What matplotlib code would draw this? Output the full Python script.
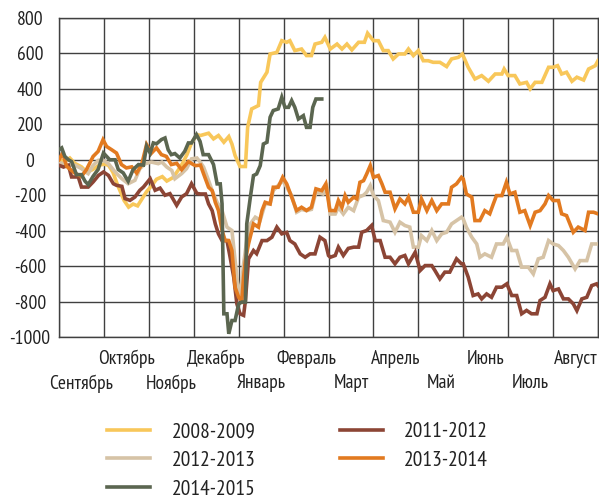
import matplotlib
matplotlib.use("Agg")
import matplotlib.pyplot as plt

plt.rcParams['font.family'] = ['PT Sans Narrow', 'Roboto Condensed', 'DejaVu Sans']

months = ["Сентябрь", "Октябрь", "Ноябрь", "Декабрь", "Январь", "Февраль",
          "Март", "Апрель", "Май", "Июнь", "Июль", "Август"]
y_ticks = [-1000, -800, -600, -400, -200, 0, 200, 400, 600, 800]

# x positions are in months since 1 September
x_0809 = [0.0, 0.12, 0.24, 0.35, 0.5, 0.62, 0.75, 0.9, 1.0, 1.1, 1.2, 1.3, 1.45, 1.55, 1.65, 1.75, 1.85,
          1.95, 2.05, 2.17, 2.3, 2.4, 2.54, 2.65, 2.75, 2.85, 2.95, 3.07, 3.15, 3.33, 3.44, 3.55, 3.67,
          3.78, 3.85, 3.92, 4.03, 4.15, 4.2, 4.29, 4.44, 4.49, 4.63, 4.70, 4.85, 4.96, 5.07, 5.14, 5.25,
          5.40, 5.51, 5.62, 5.70, 5.85, 5.92, 6.04, 6.19, 6.30, 6.41, 6.52, 6.67, 6.80, 6.87, 7.0, 7.11,
          7.22, 7.33, 7.44, 7.56, 7.70, 7.78, 7.89, 8.0, 8.11, 8.22, 8.33, 8.48, 8.63, 8.74, 8.89, 8.98,
          9.11, 9.26, 9.41, 9.56, 9.71, 9.86, 9.91, 10.0, 10.15, 10.26, 10.41, 10.49, 10.6, 10.75, 10.9,
          11.0, 11.1, 11.19, 11.3, 11.42, 11.53, 11.68, 11.79, 11.94, 12.0]
v_0809 = [0, -10, 10, -20, -40, -70, -55, -30, -25, -30, -70, -140, -230, -267, -250, -260, -220,
          -180, -150, -110, -95, -120, -100, -60, -20, 30, 95, 142, 137, 150, 118, 137, 99,
          131, 89, 24, -38, -38, 183, 287, 306, 437, 494, 597, 606, 672, 663, 672, 616,
          625, 588, 588, 653, 663, 691, 625, 653, 625, 653, 620, 663, 663, 714, 672, 672,
          616, 616, 569, 597, 597, 625, 588, 616, 559, 559, 550, 550, 526, 569, 578, 597,
          522, 456, 475, 443, 484, 484, 512, 475, 475, 428, 437, 400, 437, 437, 522,
          522, 531, 484, 494, 443, 466, 450, 512, 531, 559]

x_1112 = [0.0, 0.1, 0.21, 0.28, 0.43, 0.5, 0.65, 0.76, 0.88, 0.99, 1.1, 1.21, 1.28, 1.4, 1.47, 1.58,
          1.69, 1.8, 1.88, 2.03, 2.14, 2.25, 2.36, 2.47, 2.62, 2.73, 2.84, 2.95, 3.07, 3.15, 3.26,
          3.33, 3.41, 3.48, 3.55, 3.63, 3.74, 3.81, 3.89, 3.96, 4.03, 4.11, 4.15, 4.22, 4.33, 4.4,
          4.52, 4.63, 4.74, 4.85, 4.96, 5.07, 5.14, 5.25, 5.37, 5.48, 5.59, 5.7, 5.81, 5.92, 6.0,
          6.04, 6.15, 6.22, 6.33, 6.44, 6.56, 6.67, 6.74, 6.85, 6.96, 7.04, 7.15, 7.26, 7.37, 7.48,
          7.59, 7.7, 7.78, 7.93, 8.04, 8.15, 8.3, 8.37, 8.48, 8.59, 8.7, 8.85, 8.96, 9.0, 9.11,
          9.22, 9.33, 9.41, 9.52, 9.63, 9.74, 9.86, 9.97, 10.08, 10.19, 10.3, 10.41, 10.52, 10.64,
          10.71, 10.82, 10.93, 11.0, 11.12, 11.23, 11.34, 11.45, 11.53, 11.64, 11.75, 11.86, 11.97, 12.0]
v_1112 = [-31, -41, -31, -97, -97, -154, -154, -125, -88, -69, -88, -135, -144, -150, -219, -229,
          -210, -172, -154, -107, -172, -160, -200, -191, -257, -210, -191, -135, -190, -193, -193,
          -249, -287, -362, -418, -456, -456, -550, -662, -813, -869, -878, -795, -559, -512, -530,
          -456, -456, -437, -380, -418, -410, -456, -475, -531, -550, -531, -531, -437, -456, -540,
          -550, -540, -493, -540, -500, -493, -493, -409, -399, -371, -456, -456, -550, -550, -587,
          -550, -540, -587, -522, -625, -597, -597, -625, -672, -634, -634, -559, -587, -587, -662,
          -766, -757, -785, -757, -776, -719, -719, -700, -766, -766, -869, -850, -869, -869,
          -794, -776, -700, -738, -729, -785, -785, -813, -851, -785, -776, -710, -700, -710]

x_1213 = [0.0, 0.21, 0.36, 0.5, 0.65, 0.76, 0.88, 0.99, 1.1, 1.25, 1.4, 1.54, 1.69, 1.8, 1.92, 2.06,
          2.21, 2.29, 2.4, 2.51, 2.58, 2.73, 2.84, 2.95, 3.07, 3.15, 3.22, 3.33, 3.41, 3.52, 3.63,
          3.74, 3.85, 3.96, 4.03, 4.11, 4.18, 4.26, 4.37, 4.48, 4.59, 4.70, 4.77, 4.88, 4.98, 5.07,
          5.18, 5.29, 5.40, 5.51, 5.62, 5.72, 5.88, 5.97, 6.04, 6.15, 6.22, 6.33, 6.44, 6.56, 6.67,
          6.78, 6.85, 6.93, 7.0, 7.11, 7.22, 7.37, 7.48, 7.59, 7.70, 7.81, 7.89, 8.0, 8.07, 8.19,
          8.30, 8.41, 8.52, 8.63, 8.74, 8.85, 8.96, 9.0, 9.07, 9.19, 9.3, 9.37, 9.48, 9.63, 9.74,
          9.89, 9.97, 10.08, 10.19, 10.3, 10.45, 10.56, 10.67, 10.78, 10.9, 11.0, 11.12, 11.23,
          11.34, 11.49, 11.6, 11.75, 11.86, 11.97, 12.0]
v_1213 = [-15, -31, -31, -50, -78, -31, -3, -3, -22, -69, -107, -135, -116, -50, -22, -13,
          -22, -13, -41, -60, -107, -78, -50, 5, 10, -15, -42, -117, -174, -240, -286,
          -380, -399, -662, -795, -587, -455, -362, -324, -340, -249, -249, -174, -145, -117, -155,
          -202, -296, -280, -287, -280, -183, -193, -155, -306, -306, -268, -306, -268, -287, -211,
          -200, -183, -146, -202, -230, -343, -352, -409, -352, -371, -380, -493, -493, -428, -456,
          -399, -456, -418, -409, -362, -343, -324, -334, -381, -437, -475, -550, -531, -550, -475,
          -475, -437, -512, -512, -606, -606, -644, -559, -550, -456, -475, -484, -512,
          -550, -616, -569, -569, -475, -475, -475]

x_1314 = [0.0, 0.08, 0.17, 0.35, 0.5, 0.61, 0.76, 0.87, 0.98, 1.06, 1.17, 1.28, 1.39, 1.5, 1.62, 1.73,
          1.84, 1.95, 2.06, 2.17, 2.28, 2.39, 2.5, 2.62, 2.73, 2.88, 2.99, 3.04, 3.15, 3.22, 3.33,
          3.41, 3.48, 3.55, 3.63, 3.70, 3.78, 3.85, 3.92, 4.0, 4.07, 4.11, 4.15, 4.22, 4.33, 4.44,
          4.52, 4.59, 4.70, 4.77, 4.88, 4.98, 5.07, 5.18, 5.29, 5.40, 5.51, 5.62, 5.72, 5.85, 5.94,
          6.03, 6.15, 6.22, 6.30, 6.37, 6.44, 6.56, 6.63, 6.70, 6.78, 6.85, 6.93, 7.0, 7.11, 7.19,
          7.26, 7.37, 7.48, 7.59, 7.70, 7.78, 7.89, 8.0, 8.07, 8.19, 8.30, 8.41, 8.52, 8.67, 8.74,
          8.85, 8.96, 9.0, 9.07, 9.19, 9.26, 9.37, 9.48, 9.59, 9.67, 9.74, 9.86, 9.96, 10.04, 10.15,
          10.26, 10.37, 10.49, 10.6, 10.71, 10.82, 10.9, 11.0, 11.12, 11.19, 11.3, 11.45, 11.56,
          11.71, 11.79, 11.9, 12.0]
v_1314 = [0, 38, -37, -75, -94, -56, 19, 47, 113, 75, 57, 38, -27, -46, -40, -75,
          -27, 86, 38, 67, 29, 19, -27, -20, -56, -10, -27, -33, -30, -80, -155,
          -174, -240, -286, -399, -456, -456, -512, -719, -776, -795, -662, -568, -474, -362, -380,
          -286, -240, -249, -155, -155, -99, -136, -211, -286, -268, -286, -268, -164, -174, -136,
          -286, -287, -230, -268, -202, -240, -211, -220, -127, -118, -80, -33, -99, -89, -136,
          -183, -183, -277, -221, -249, -211, -296, -296, -221, -287, -230, -287, -249, -249, -155,
          -136, -99, -108, -193, -211, -343, -343, -287, -305, -249, -202, -202, -127, -193, -183,
          -296, -287, -371, -296, -287, -249, -202, -230, -230, -305, -315, -409, -380,
          -399, -296, -296, -305]

x_1415 = [0.0, 0.06, 0.13, 0.21, 0.28, 0.39, 0.5, 0.58, 0.65, 0.76, 0.87, 0.99, 1.06, 1.13, 1.25, 1.32,
          1.43, 1.54, 1.65, 1.77, 1.88, 1.95, 2.03, 2.1, 2.17, 2.28, 2.36, 2.43, 2.5, 2.58, 2.69,
          2.8, 2.88, 2.95, 3.06, 3.14, 3.21, 3.33, 3.44, 3.52, 3.59, 3.63, 3.67, 3.74, 3.78, 3.85,
          3.92, 4.0, 4.07, 4.15, 4.18, 4.26, 4.33, 4.4, 4.48, 4.55, 4.63, 4.7, 4.77, 4.88, 4.96,
          5.03, 5.11, 5.18, 5.25, 5.33, 5.44, 5.51, 5.59, 5.65, 5.72, 5.85]
v_1415 = [57, 67, 19, 0, -10, -84, -84, -121, -140, -93, -55, 38, 19, 0, 0, -55,
          -74, -121, -55, -27, -30, 76, 38, 95, 90, 114, 123, 57, 29, 35, 10,
          48, 95, 95, 142, 104, 29, 29, -27, -136, -136, -249, -869, -869, -982, -907,
          -907, -813, -803, -803, -362, -211, -89, -80, -33, 89, 99, 240, 278, 287, 353,
          296, 296, 334, 296, 230, 249, 183, 183, 296, 343, 343]

series = [
    ("2008-2009", x_0809, v_0809, "#F8C75A"),
    ("2012-2013", x_1213, v_1213, "#D6C3A6"),
    ("2014-2015", x_1415, v_1415, "#5B6650"),
    ("2011-2012", x_1112, v_1112, "#8C4535"),
    ("2013-2014", x_1314, v_1314, "#E27A20"),
]
zorders = {"2008-2009": 3, "2012-2013": 4, "2011-2012": 5, "2013-2014": 6, "2014-2015": 7}

fig = plt.figure(figsize=(5.99, 4.99), dpi=100)
ax = fig.add_axes([59 / 599, 1 - 337 / 499, 539 / 599, 319 / 499])

grid_c = "#404040"
for m in range(13):
    ax.axvline(m, color=grid_c, lw=1.0, zorder=1)
for yv in y_ticks:
    ax.axhline(yv, color=grid_c, lw=1.0, zorder=1)

handles = []
for name, xs, vs, col in series:
    h, = ax.plot(xs, vs, color=col, lw=2.6, label=name, zorder=zorders[name],
                 solid_joinstyle='miter')
    handles.append(h)

ax.set_xlim(0, 12)
ax.set_ylim(-1000, 800)
for s in ax.spines.values():
    s.set_color(grid_c)
    s.set_linewidth(1.0)

txt_c = '#222222'
ax.set_yticks(y_ticks)
ax.set_yticklabels([str(v) for v in y_ticks], fontsize=14, ha='center', color=txt_c)
ax.tick_params(axis='y', length=0, pad=21)

centers = [i + 0.5 for i in range(12)]
ax.set_xticks(centers[1::2])
ax.set_xticklabels(months[1::2], fontsize=14, color=txt_c)
ax.set_xticks(centers[0::2], minor=True)
ax.set_xticklabels(months[0::2], minor=True, fontsize=14, color=txt_c)
ax.tick_params(axis='x', which='major', length=0, pad=9)
ax.tick_params(axis='x', which='minor', length=0, pad=27)

leg = fig.legend(handles=handles, loc='upper left', bbox_to_anchor=(107 / 599, 1 - 422 / 499),
                 ncol=2, frameon=False, fontsize=15.5, handlelength=2.0, handletextpad=1.0,
                 columnspacing=3.9, labelspacing=0.45, borderpad=0, borderaxespad=0)
for t in leg.get_texts():
    t.set_color(txt_c)
for l in leg.get_lines():
    l.set_linewidth(2.6)

fig.savefig("out.png", dpi=100)
